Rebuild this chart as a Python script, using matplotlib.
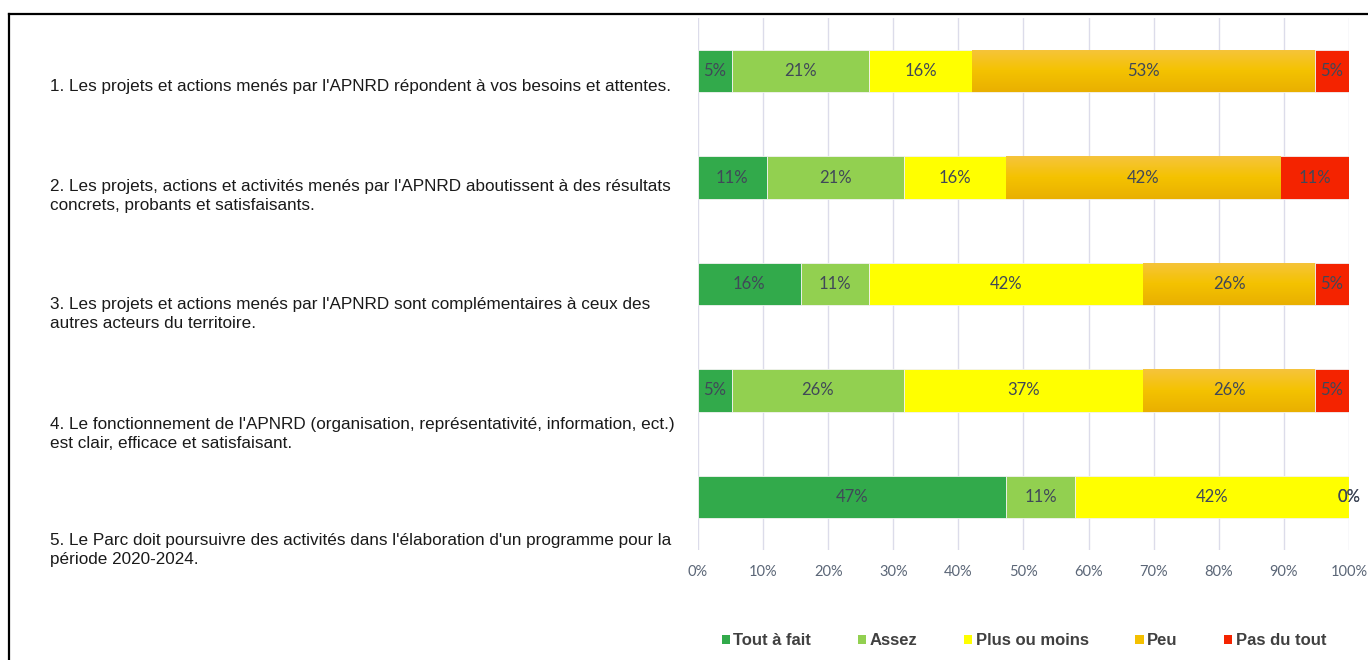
import numpy as np
import matplotlib.pyplot as plt
from matplotlib.patches import Patch
from matplotlib.lines import Line2D
import matplotlib.transforms as mtransforms
from matplotlib.colors import LinearSegmentedColormap

questions = [
    "1. Les projets et actions menés par l'APNRD répondent à vos besoins et attentes.",
    "2. Les projets, actions et activités menés par l'APNRD aboutissent à des résultats\nconcrets, probants et satisfaisants.",
    "3. Les projets et actions menés par l'APNRD sont complémentaires à ceux des\nautres acteurs du territoire.",
    "4. Le fonctionnement de l'APNRD (organisation, représentativité, information, ect.)\nest clair, efficace et satisfaisant.",
    "5. Le Parc doit poursuivre des activités dans l'élaboration d'un programme pour la\npériode 2020-2024.",
]
answers = ['Tout à fait', 'Assez', 'Plus ou moins', 'Peu', 'Pas du tout']

# pourcentages par réponse (une liste par modalité, une valeur par question)
tout_a_fait = [5.26, 10.53, 15.79, 5.26, 47.37]
assez = [21.05, 21.05, 10.53, 26.32, 10.53]
plus_ou_moins = [15.79, 15.79, 42.11, 36.84, 42.11]
peu = [52.63, 42.11, 26.32, 26.32, 0.0]
pas_du_tout = [5.26, 10.53, 5.26, 5.26, 0.0]
series = [tout_a_fait, assez, plus_ou_moins, peu, pas_du_tout]

colors = ['#32AA4B', '#92D050', '#FFFF00', '#F4C000', '#F42300']
label_offsets = [0.14, 0.17, 0.28, 0.41, 0.50]   # décalage vertical des libellés

fig = plt.figure(figsize=(13.68, 6.6), dpi=100)
ax = fig.add_axes([0.5102, 0.1667, 0.4759, 0.806])

# dégradé léger pour la série "Peu" (clair en haut, foncé en bas)
peu_cmap = LinearSegmentedColormap.from_list('peu', ['#F6C43C', '#F4C200', '#E9B000'])
grad = np.linspace(0, 1, 64).reshape(-1, 1)

ypos = list(range(len(questions)))
left = [0.0] * len(questions)
for k, (vals, col) in enumerate(zip(series, colors)):
    bars = ax.barh(ypos, vals, left=left, height=0.40, color=col,
                   edgecolor='#F2F2F2', linewidth=0.6, zorder=3)
    for b, v in zip(bars, vals):
        if k == 3 and v > 0:
            x0, y0 = b.get_x(), b.get_y()
            im = ax.imshow(grad, cmap=peu_cmap, aspect='auto', zorder=3.5,
                           extent=(x0, x0 + b.get_width(), y0, y0 + b.get_height()),
                           origin='lower')
            im.set_clip_path(b)
        ax.text(b.get_x() + b.get_width() / 2, b.get_y() + b.get_height() / 2,
                f'{v:.0f}%', ha='center', va='center', fontsize=12,
                color='#404858', family='Lato', zorder=4)
    left = [l + v for l, v in zip(left, vals)]

ax.set_xlim(0, 100)
ax.set_ylim(4.5, -0.5)
ax.set_xticks(range(0, 101, 10))
ax.set_xticklabels([f'{t}%' for t in range(0, 101, 10)], family='Lato',
                   fontsize=10.5, color='#5B6677')
ax.tick_params(axis='x', length=0, pad=11)
ax.set_yticks([])
ax.grid(axis='x', color='#DCDCEA', linewidth=1, zorder=0)
for s in ax.spines.values():
    s.set_visible(False)

trans = mtransforms.blended_transform_factory(fig.transFigure, ax.transData)
for i, (q, off) in enumerate(zip(questions, label_offsets)):
    fig.text(0.0365, i + off, q, transform=trans, ha='left', va='center',
             fontsize=12.3, family='Liberation Sans', color='#1A1A1A',
             linespacing=1.35)

handles = [Patch(facecolor=c, edgecolor='none') for c in colors]
leg = fig.legend(handles, answers, loc='center', bbox_to_anchor=(0.7485, 0.029),
                 ncol=5, frameon=False, handlelength=0.5, handleheight=0.5,
                 handletextpad=0.2, columnspacing=2.8,
                 prop={'family': 'Liberation Sans', 'weight': 'bold', 'size': 12})
for t in leg.get_texts():
    t.set_color('#404040')

# cadre noir
fig.add_artist(Line2D([9 / 1368, 1.0], [1 - 14 / 660, 1 - 14 / 660],
                      transform=fig.transFigure, color='black', linewidth=1.6))
fig.add_artist(Line2D([9 / 1368, 9 / 1368], [0.0, 1 - 14 / 660],
                      transform=fig.transFigure, color='black', linewidth=1.6))

plt.savefig('out.png', dpi=100)
